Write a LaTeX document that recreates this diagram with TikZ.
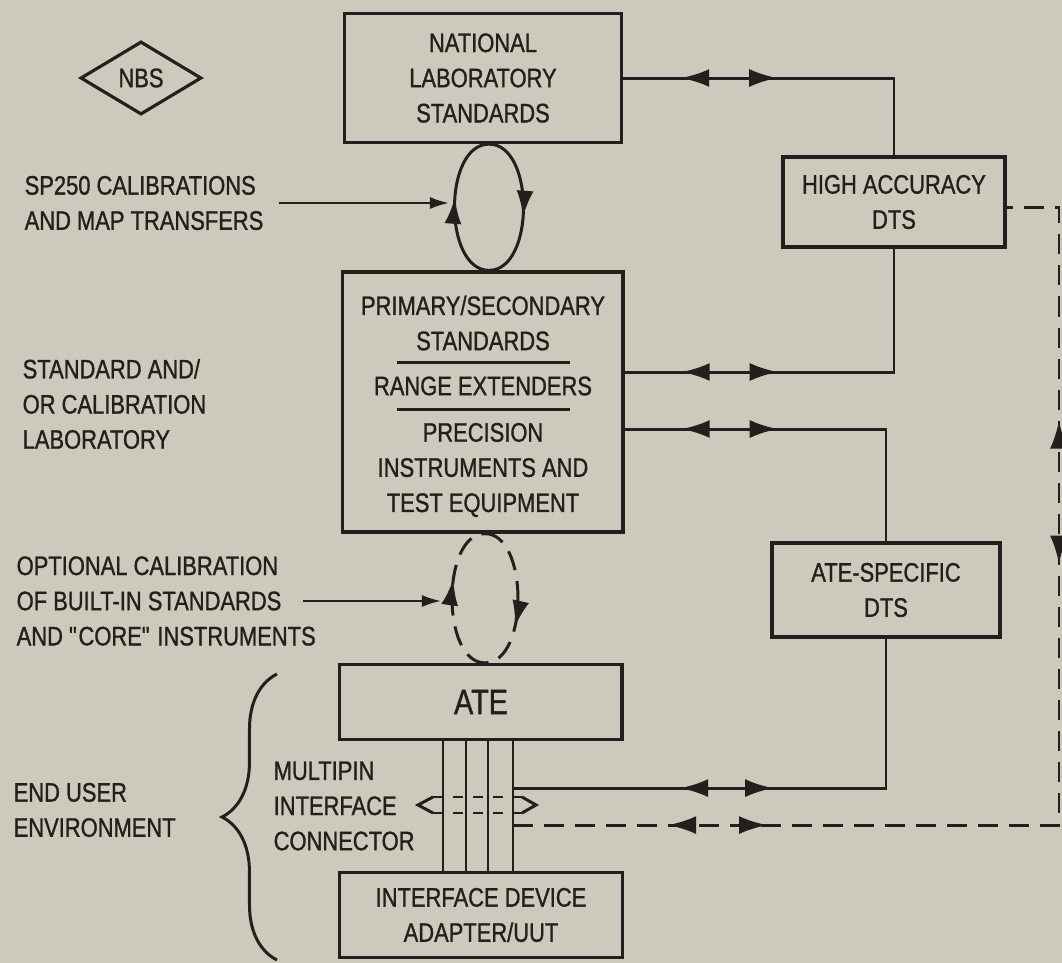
\documentclass[tikz,border=0pt]{standalone}
\usepackage{fontspec}
\setmainfont[FakeStretch=0.82,FakeBold=1]{Liberation Sans}
\usetikzlibrary{shapes.geometric,decorations.markings,decorations.pathreplacing,calc,arrows.meta}
\definecolor{paper}{RGB}{203,202,188}
\definecolor{ink}{RGB}{34,31,29}
\newcommand{\diagfont}{\fontsize{7.6}{10}\selectfont}
\newcommand{\atefont}{\fontsize{10}{12}\selectfont}

\begin{document}
\begin{tikzpicture}[
    x=0.01cm,y=-0.01cm,
    color=ink,
    >={Latex[length=0.19cm,width=0.12cm]},
    box/.style={draw, line width=0.9pt, font=\diagfont, align=center, inner sep=0pt},
    lab/.style={font=\diagfont, align=left, inner sep=0pt, anchor=west},
    link/.style={line width=0.85pt},
    feed/.style={->, line width=0.6pt},
    broken/.style={dash pattern=on 0.2cm off 0.11cm},
    midtip/.style={postaction={decorate}, decoration={markings,
        mark=at position #1 with {\arrow{Latex[length=0.26cm,width=0.17cm]}}}},
    twoway/.style 2 args={postaction={decorate}, decoration={markings,
        mark=at position #1 with {\arrowreversed{Latex[length=0.28cm,width=0.18cm]}},
        mark=at position #2 with {\arrow{Latex[length=0.28cm,width=0.18cm]}}}}
]
    \useasboundingbox (0,0) rectangle (1062,963);
    \fill[paper] (0,0) rectangle (1062,963);

    \node[box, diamond, aspect=1.66, minimum width=1.21cm, minimum height=0.73cm] (nbs) at (141,78) {NBS};

    \node[box, minimum width=2.77cm, minimum height=1.29cm] (nls) at (483,78) {NATIONAL\\LABORATORY\\STANDARDS};
    \node[box, minimum width=2.8cm, minimum height=2.6cm] (pss) at (483,402) {};
    \node[font=\diagfont, align=center] (pss1) at (483,323) {PRIMARY/SECONDARY\\STANDARDS};
    \node[font=\diagfont] (pss2) at (483,386) {RANGE EXTENDERS};
    \node[font=\diagfont, align=center] (pss3) at (483,470) {PRECISION\\INSTRUMENTS AND\\TEST EQUIPMENT};
    \draw[link] (397,362) -- (570,362);
    \draw[link] (397,409) -- (570,409);

    \node[box, minimum width=2.22cm, minimum height=0.9cm] (ha) at (894,202) {HIGH ACCURACY\\DTS};
    \node[box, minimum width=2.28cm, minimum height=0.94cm] (ated) at (886,590) {ATE-SPECIFIC\\DTS};
    \node[box, minimum width=2.82cm, minimum height=0.75cm, font=\atefont] (ate) at (481,702) {ATE};
    \node[box, minimum width=2.83cm, minimum height=0.85cm] (ida) at (481,915) {INTERFACE DEVICE\\ADAPTER/UUT};

    \node[lab] (sp) at (24,203) {SP250 CALIBRATIONS\\AND MAP TRANSFERS};
    \node[lab] (scl) at (22,404) {STANDARD AND/\\OR CALIBRATION\\LABORATORY};
    \node[lab] (opt) at (16,601) {OPTIONAL CALIBRATION\\OF BUILT-IN STANDARDS\\AND \textquotedbl CORE\textquotedbl\ INSTRUMENTS};
    \node[lab] (eue) at (13,810) {END USER\\ENVIRONMENT};
    \node[lab] (mpc) at (273,806) {MULTIPIN\\INTERFACE\\CONNECTOR};

    % transfer loops
    \coordinate (up1) at ($(nls.south)+(6,0)$);
    \coordinate (dn1) at ($(pss.north)+(6,0)$);
    \draw[link, midtip=0.56] (dn1) .. controls +(-46,0) and +(-46,0) .. (up1);
    \draw[link, midtip=0.56] (up1) .. controls +(46,0) and +(46,0) .. (dn1);
    \coordinate (up2) at ($(pss.south)+(2,0)$);
    \coordinate (dn2) at ($(ate.north)+(4,0)$);
    \draw[link, broken, midtip=0.62] (dn2) .. controls +(-44,0) and +(-44,0) .. (up2);
    \draw[link, broken, midtip=0.68] (up2) .. controls +(44,0) and +(44,0) .. (dn2);

    \coordinate (in1) at (449,203);
    \coordinate (in2) at (441,601);
    \draw[feed] ($(sp.east)+(15,0)$) -- (in1);
    \draw[feed] ($(opt.east)+(-13,0)$) -- (in2);

    % links to the transfer standards
    \coordinate (o1) at ($(pss.east)+(0,-30)$);
    \coordinate (o2) at ($(pss.east)+(0,27)$);
    \draw[link, twoway={0.58cm}{1.54cm}] (nls.east) -- (nls.east -| ha.north) -- (ha.north);
    \draw[link, twoway={0.57cm}{1.53cm}] (o1) -- (o1 -| ha.south) -- (ha.south);
    \draw[link, twoway={0.57cm}{1.53cm}] (o2) -- (o2 -| ated.north) -- (ated.north);

    \foreach \dx in {-38,-15,7,32}
        \draw[link] ($(ate.south)+(\dx,0)$) -- ($(ida.north)+(\dx,0)$);
    \draw[link] (433,797) -- (418,805) -- (433,813);
    \draw[link] (522,797) -- (536,805) -- (522,813);
    \draw[link, dash pattern=on 0.1cm off 0.1cm] (433,797) -- (522,797) (433,813) -- (522,813);

    \coordinate (p1) at ($(ate.south)+(32,47)$);
    \coordinate (p2) at ($(ate.south)+(32,84)$);
    \coordinate (rc) at (1059,207);
    \draw[link, twoway={1.67cm}{2.6cm}] (p1) -- (p1 -| ated.south) -- (ated.south);
    \draw[link, broken, postaction={decorate}, decoration={markings,
        mark=at position 1.55cm with {\arrowreversed{Latex[length=0.28cm,width=0.18cm]}},
        mark=at position 2.54cm with {\arrow{Latex[length=0.28cm,width=0.18cm]}},
        mark=at position 8.07cm with {\arrowreversed{Latex[length=0.28cm,width=0.18cm]}},
        mark=at position 9.5cm with {\arrow{Latex[length=0.28cm,width=0.18cm]}}}]
        (p2) -- (p2 -| rc) -- (rc) -- (rc -| ha.east);

    \draw[link, decorate, decoration={brace, amplitude=0.55cm}] (277,960) -- (277,674);
\end{tikzpicture}
\end{document}
